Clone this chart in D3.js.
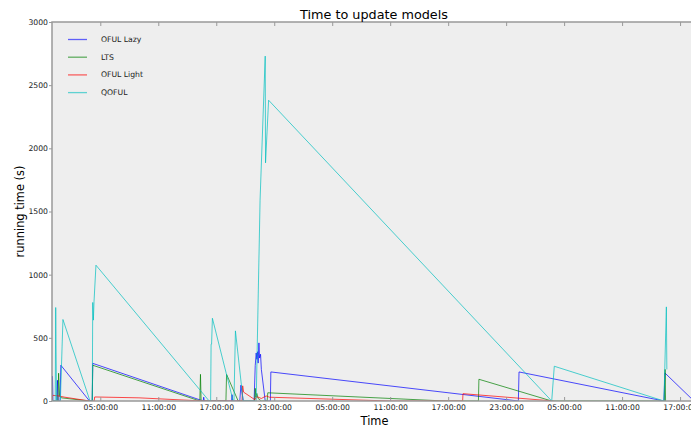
<!DOCTYPE html>
<html>
<head>
<meta charset="utf-8">
<script src="https://cdn.jsdelivr.net/npm/d3@7"></script>
<style>
  html, body { margin: 0; padding: 0; background: #ffffff; }
  svg { display: block; font-family: "DejaVu Sans", sans-serif; }
</style>
</head>
<body>
<svg id="chart" width="691" height="430"></svg>
<script>
// Running time of each model update, as "day HH:MM" timestamps and seconds.
const seriesNames = ["OFUL Lazy", "LTS", "OFUL Light", "QOFUL"];
const seriesColors = ["#0000ff", "#008000", "#ff0000", "#00bfbf"];

const ofulLazy = [
  ["1 00:00", 0], ["1 00:03", 196], ["1 00:06", 0], ["1 00:30", 0], ["1 00:34", 164],
  ["1 00:38", 0], ["1 00:50", 0], ["1 00:55", 283], ["1 03:53", 0], ["1 04:10", 0],
  ["1 04:13", 298], ["1 15:39", 0], ["1 15:42", 30], ["1 15:46", 0], ["1 18:35", 0],
  ["1 18:38", 50], ["1 18:42", 0], ["1 19:26", 0], ["1 19:33", 125], ["1 19:48", 0],
  ["1 20:55", 0], ["1 21:02", 280], ["1 21:08", 380], ["1 21:12", 330], ["1 21:16", 390],
  ["1 21:20", 300], ["1 21:25", 460], ["1 21:29", 340], ["1 21:35", 370], ["1 21:40", 250],
  ["1 22:04", 0], ["1 22:36", 0], ["1 22:39", 230], ["3 00:16", 0], ["3 00:20", 230],
  ["3 15:20", 0], ["3 15:26", 222], ["3 18:26", 0]
];

const lts = [
  ["1 00:00", 0], ["1 00:37", 0], ["1 00:41", 220], ["1 00:47", 40], ["1 00:58", 25],
  ["1 03:53", 0], ["1 04:10", 0], ["1 04:13", 283], ["1 15:18", 0], ["1 15:22", 211],
  ["1 15:26", 0], ["1 18:00", 0], ["1 18:04", 211], ["1 19:16", 0], ["1 20:58", 0],
  ["1 21:02", 100], ["1 21:06", 30], ["1 21:12", 60], ["1 21:20", 20], ["1 21:40", 0],
  ["1 22:16", 0], ["1 22:20", 65], ["2 16:41", 0], ["2 20:08", 0], ["2 20:11", 172],
  ["3 03:43", 0], ["3 15:22", 0], ["3 15:27", 250], ["3 15:30", 0]
];

const ofulLight = [
  ["1 00:00", 0], ["1 00:04", 45], ["1 00:40", 40], ["1 01:20", 30], ["1 03:53", 0],
  ["1 04:22", 0], ["1 04:25", 32], ["1 09:00", 25], ["1 15:40", 0], ["1 19:40", 0],
  ["1 19:44", 120], ["1 19:50", 70], ["1 21:00", 10], ["1 21:10", 35], ["1 21:40", 20],
  ["1 22:10", 40], ["1 22:30", 30], ["2 11:00", 0], ["2 18:30", 0], ["2 18:32", 58],
  ["3 03:54", 0]
];

const qoful = [
  ["1 00:00", 0], ["1 00:20", 0], ["1 00:23", 740], ["1 00:28", 0], ["1 00:52", 0],
  ["1 01:08", 645], ["1 03:56", 0], ["1 04:10", 0], ["1 04:13", 780], ["1 04:17", 640],
  ["1 04:21", 790], ["1 04:33", 1075], ["1 16:16", 0], ["1 16:25", 0], ["1 16:28", 450],
  ["1 16:31", 450], ["1 16:36", 655], ["1 18:45", 0], ["1 18:50", 0], ["1 18:59", 555],
  ["1 19:47", 0], ["1 21:08", 0], ["1 21:32", 1590], ["1 22:04", 2730], ["1 22:06", 1885],
  ["1 22:25", 2381], ["3 03:43", 0], ["3 03:59", 275], ["3 15:20", 0], ["3 15:35", 745],
  ["3 15:38", 250]
];

const allSeries = [ofulLazy, lts, ofulLight, qoful];

const xStart = "1 00:00";
const xEnd = "3 18:39";
const yTicks = [0, 500, 1000, 1500, 2000, 2500, 3000];
const tickHours = [5, 11, 17, 23];   // x ticks every six hours from 05:00

const parseTime = d3.timeParse("%d %H:%M");

const svg = d3.select("#chart");
const plotL = 52, plotR = 696, plotT = 22, plotB = 401;

const x = d3.scaleTime()
  .domain([parseTime(xStart), parseTime(xEnd)])
  .range([plotL, plotR]);
const y = d3.scaleLinear().domain([0, 3000]).range([plotB, plotT]);

// plot background
svg.append("rect")
  .attr("x", plotL).attr("y", plotT)
  .attr("width", plotR - plotL).attr("height", plotB - plotT)
  .attr("fill", "#eeeeee");

svg.append("clipPath").attr("id", "plotClip")
  .append("rect")
  .attr("x", plotL).attr("y", plotT - 1)
  .attr("width", plotR - plotL).attr("height", plotB - plotT + 1);

const line = d3.line()
  .x(d => x(parseTime(d[0])))
  .y(d => y(d[1]));

const lines = svg.append("g").attr("clip-path", "url(#plotClip)");
allSeries.forEach((s, i) => {
  lines.append("path")
    .attr("d", line(s))
    .attr("fill", "none")
    .attr("stroke", seriesColors[i])
    .attr("stroke-opacity", 0.7)
    .attr("stroke-width", 1)
    .attr("stroke-linejoin", "miter");
});

// axes
const xTickValues = x.ticks(d3.timeHour.filter(d => tickHours.includes(d.getHours())));
const fmt = d3.timeFormat("%H:%M:%S");
const spineColor = "#999999";

const xAxisBottom = d3.axisBottom(x).tickValues(xTickValues).tickFormat(fmt)
  .tickSizeInner(-4).tickSizeOuter(0).tickPadding(4);
const gxb = svg.append("g").attr("transform", `translate(0,${plotB})`).call(xAxisBottom);
gxb.select(".domain").remove();

const xAxisTop = d3.axisTop(x).tickValues(xTickValues).tickFormat("")
  .tickSizeInner(-4).tickSizeOuter(0);
const gxt = svg.append("g").attr("transform", `translate(0,${plotT})`).call(xAxisTop);
gxt.select(".domain").remove();

const yAxis = d3.axisLeft(y).tickValues(yTicks).tickFormat(d3.format("d"))
  .tickSizeInner(3).tickSizeOuter(0).tickPadding(1);
const gy = svg.append("g").attr("transform", `translate(${plotL},0)`).call(yAxis);
gy.select(".domain").remove();

[gxb, gxt, gy].forEach(g => {
  g.selectAll(".tick line").attr("stroke", spineColor).attr("stroke-width", 1);
  g.selectAll(".tick text").attr("fill", "#222").style("font-size", "7.7px")
    .style("font-family", "DejaVu Sans, sans-serif");
});

// spines
svg.append("path")
  .attr("d", `M${plotR},${plotT}H${plotL}V${plotB}H${plotR}`)
  .attr("fill", "none")
  .attr("stroke", spineColor)
  .attr("stroke-width", 1.5);

// titles
svg.append("text")
  .attr("x", (plotL + plotR) / 2).attr("y", 19)
  .attr("text-anchor", "middle")
  .style("font-size", "12.8px").attr("fill", "#000")
  .text("Time to update models");

svg.append("text")
  .attr("x", (plotL + plotR) / 2 + 0.5).attr("y", 425)
  .attr("text-anchor", "middle")
  .style("font-size", "11.4px").attr("fill", "#000")
  .text("Time");

svg.append("text")
  .attr("transform", `translate(24,${(plotT + plotB) / 2}) rotate(-90)`)
  .attr("text-anchor", "middle")
  .style("font-size", "11.4px").attr("fill", "#000")
  .text("running time (s)");

// legend
const legend = svg.append("g");
seriesNames.forEach((name, i) => {
  const ly = 39.5 + i * 17.7;
  legend.append("line")
    .attr("x1", 68).attr("x2", 87).attr("y1", ly).attr("y2", ly)
    .attr("stroke", seriesColors[i]).attr("stroke-opacity", 0.6).attr("stroke-width", 1.3);
  legend.append("text")
    .attr("x", 101).attr("y", ly)
    .attr("dominant-baseline", "central")
    .style("font-size", "7.7px").attr("fill", "#222")
    .text(name);
});
</script>
</body>
</html>
